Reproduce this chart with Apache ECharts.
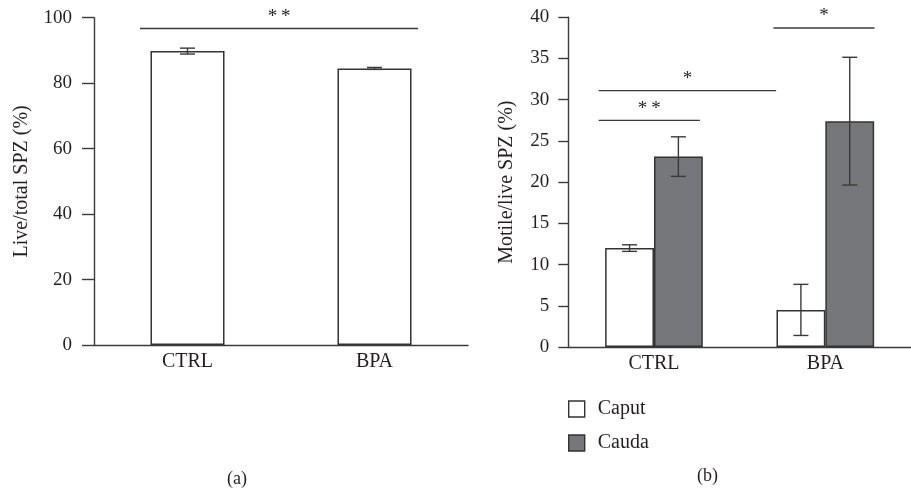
<!DOCTYPE html>
<html>
<head>
<meta charset="utf-8">
<script src="https://cdn.jsdelivr.net/npm/echarts@6/dist/echarts.min.js"></script>
<style>
html,body{margin:0;padding:0;background:#fff;}
#chart{width:911px;height:492px;}
</style>
</head>
<body>
<div id="chart"></div>
<script>
// ---- data ----
const categories = ['CTRL', 'BPA'];
// panel (a): live / total SPZ (%)
const liveMean = [89.8, 84.5];
const liveErr = [0.9, 0.3];
// panel (b): motile / live SPZ (%)
const caputMean = [12.0, 4.5];
const caputErr = [0.4, 3.1];
const caudaMean = [23.1, 27.4];
const caudaErr = [2.4, 7.75];
// significance brackets: [fromCategory, fromBandFraction, toCategory, toBandFraction, level, label]
const sigA = [[0, -0.254, 1, 0.233, 96.7, '*\u2009*']];
const sigB = [
  [0, -0.323, 0, 0.268, 27.5, '*\u2009*'],
  [0, -0.323, 1, -0.287, 31.1, '*'],
  [1, -0.303, 1, 0.287, 38.7, '*']
];
const seriesNames = ['Caput', 'Cauda'];

// ---- styles ----
const FONT = "'Liberation Serif', 'Times New Roman', serif";
const TXT = '#231f20';
const LINE = '#3a3a3a';
const BAR_A = 0.396;
const BAR_B = 0.285;
const CAUDA_COLOR = '#76777a';

function errRender(offsetFrac) {
  return function (params, api) {
    const c = api.value(0), m = api.value(1), e = api.value(2);
    const band = api.size([1, 0])[0];
    const x = api.coord([c, m])[0] + offsetFrac * band;
    const yt = api.coord([c, m + e])[1];
    const yb = api.coord([c, m - e])[1];
    const w = 7.5;
    const st = {stroke: LINE, lineWidth: 1.4};
    return {type: 'group', children: [
      {type: 'line', shape: {x1: x, y1: yt, x2: x, y2: yb}, style: st},
      {type: 'line', shape: {x1: x - w, y1: yt, x2: x + w, y2: yt}, style: st},
      {type: 'line', shape: {x1: x - w, y1: yb, x2: x + w, y2: yb}, style: st}
    ]};
  };
}
function sigRender(params, api) {
  const band = api.size([1, 0])[0];
  const lvl = api.value(4);
  const x1 = api.coord([api.value(0), lvl])[0] + api.value(1) * band;
  const x2 = api.coord([api.value(2), lvl])[0] + api.value(3) * band;
  const y = api.coord([api.value(0), lvl])[1];
  return {type: 'group', children: [
    {type: 'line', shape: {x1: x1, y1: y, x2: x2, y2: y}, style: {stroke: LINE, lineWidth: 1.4}},
    {type: 'text', style: {text: api.value(5), x: (x1 + x2) / 2, y: y - 2, align: 'center', verticalAlign: 'bottom',
      font: '19px ' + FONT, fill: TXT}}
  ]};
}

const axisLine = {lineStyle: {color: LINE, width: 1.4}};
const chart = echarts.init(document.getElementById('chart'));
chart.setOption({
  animation: false,
  textStyle: {fontFamily: FONT, color: TXT},
  grid: [
    {left: 94, top: 17.7, width: 374, bottom: 147},
    {left: 568.3, top: 17.3, width: 351, bottom: 145}
  ],
  xAxis: [
    {type: 'category', gridIndex: 0, data: categories, axisLine: axisLine,
      axisTick: {length: 10, lineStyle: {color: LINE, width: 1.4}},
      axisLabel: {fontSize: 20, color: TXT, margin: 7, fontFamily: FONT}},
    {type: 'category', gridIndex: 1, data: categories, axisLine: axisLine,
      axisTick: {length: 10, lineStyle: {color: LINE, width: 1.4}},
      axisLabel: {fontSize: 20, color: TXT, margin: 7, fontFamily: FONT}}
  ],
  yAxis: [
    {type: 'value', gridIndex: 0, min: 0, max: 100, interval: 20,
      name: 'Live/total SPZ (%)', nameLocation: 'middle', nameGap: 62,
      nameTextStyle: {fontSize: 20, color: TXT, fontFamily: FONT},
      axisLine: {show: true, lineStyle: {color: LINE, width: 1.4}},
      axisTick: {show: true, length: 12, lineStyle: {color: LINE, width: 1.4}},
      axisLabel: {fontSize: 19, color: TXT, margin: 22, fontFamily: FONT},
      splitLine: {show: false}},
    {type: 'value', gridIndex: 1, min: 0, max: 40, interval: 5,
      name: 'Motile/live SPZ (%)', nameLocation: 'middle', nameGap: 52,
      nameTextStyle: {fontSize: 20, color: TXT, fontFamily: FONT},
      axisLine: {show: true, lineStyle: {color: LINE, width: 1.4}},
      axisTick: {show: true, length: 10, lineStyle: {color: LINE, width: 1.4}},
      axisLabel: {fontSize: 19, color: TXT, margin: 19, fontFamily: FONT},
      splitLine: {show: false}}
  ],
  legend: {
    orient: 'vertical', left: 568, top: 399, padding: 0, itemWidth: 16, itemHeight: 16, itemGap: 14,
    selectedMode: false, icon: 'rect',
    textStyle: {fontSize: 20, color: TXT, fontFamily: FONT, padding: [0, 0, 0, 8]},
    data: [
      {name: seriesNames[0], itemStyle: {color: '#fff', borderColor: '#333', borderWidth: 1.4}},
      {name: seriesNames[1], itemStyle: {color: CAUDA_COLOR, borderColor: '#333', borderWidth: 1.4}}
    ]
  },
  graphic: [
    {type: 'text', left: 227, top: 470, style: {text: '(a)', font: '18px ' + FONT, fill: TXT}},
    {type: 'text', left: 697, top: 467, style: {text: '(b)', font: '18px ' + FONT, fill: TXT}}
  ],
  series: [
    {type: 'bar', name: 'Live', xAxisIndex: 0, yAxisIndex: 0, data: liveMean,
      barWidth: (BAR_A * 100) + '%',
      itemStyle: {color: '#fff', borderColor: '#333', borderWidth: 1.5}},
    {type: 'custom', xAxisIndex: 0, yAxisIndex: 0, z: 5, renderItem: errRender(0),
      data: liveMean.map((m, i) => [i, m, liveErr[i]])},
    {type: 'custom', xAxisIndex: 0, yAxisIndex: 0, z: 5, renderItem: sigRender, clip: false,
      data: sigA},
    {type: 'bar', name: seriesNames[0], xAxisIndex: 1, yAxisIndex: 1, data: caputMean,
      barWidth: (BAR_B * 100) + '%', barGap: '0%',
      itemStyle: {color: '#fff', borderColor: '#333', borderWidth: 1.5}},
    {type: 'bar', name: seriesNames[1], xAxisIndex: 1, yAxisIndex: 1, data: caudaMean,
      barWidth: (BAR_B * 100) + '%', barGap: '0%',
      itemStyle: {color: CAUDA_COLOR, borderColor: '#333', borderWidth: 1.5}},
    {type: 'custom', xAxisIndex: 1, yAxisIndex: 1, z: 5, renderItem: errRender(-BAR_B / 2),
      data: caputMean.map((m, i) => [i, m, caputErr[i]])},
    {type: 'custom', xAxisIndex: 1, yAxisIndex: 1, z: 5, renderItem: errRender(BAR_B / 2),
      data: caudaMean.map((m, i) => [i, m, caudaErr[i]])},
    {type: 'custom', xAxisIndex: 1, yAxisIndex: 1, z: 5, renderItem: sigRender, clip: false,
      data: sigB}
  ]
});
</script>
</body>
</html>
